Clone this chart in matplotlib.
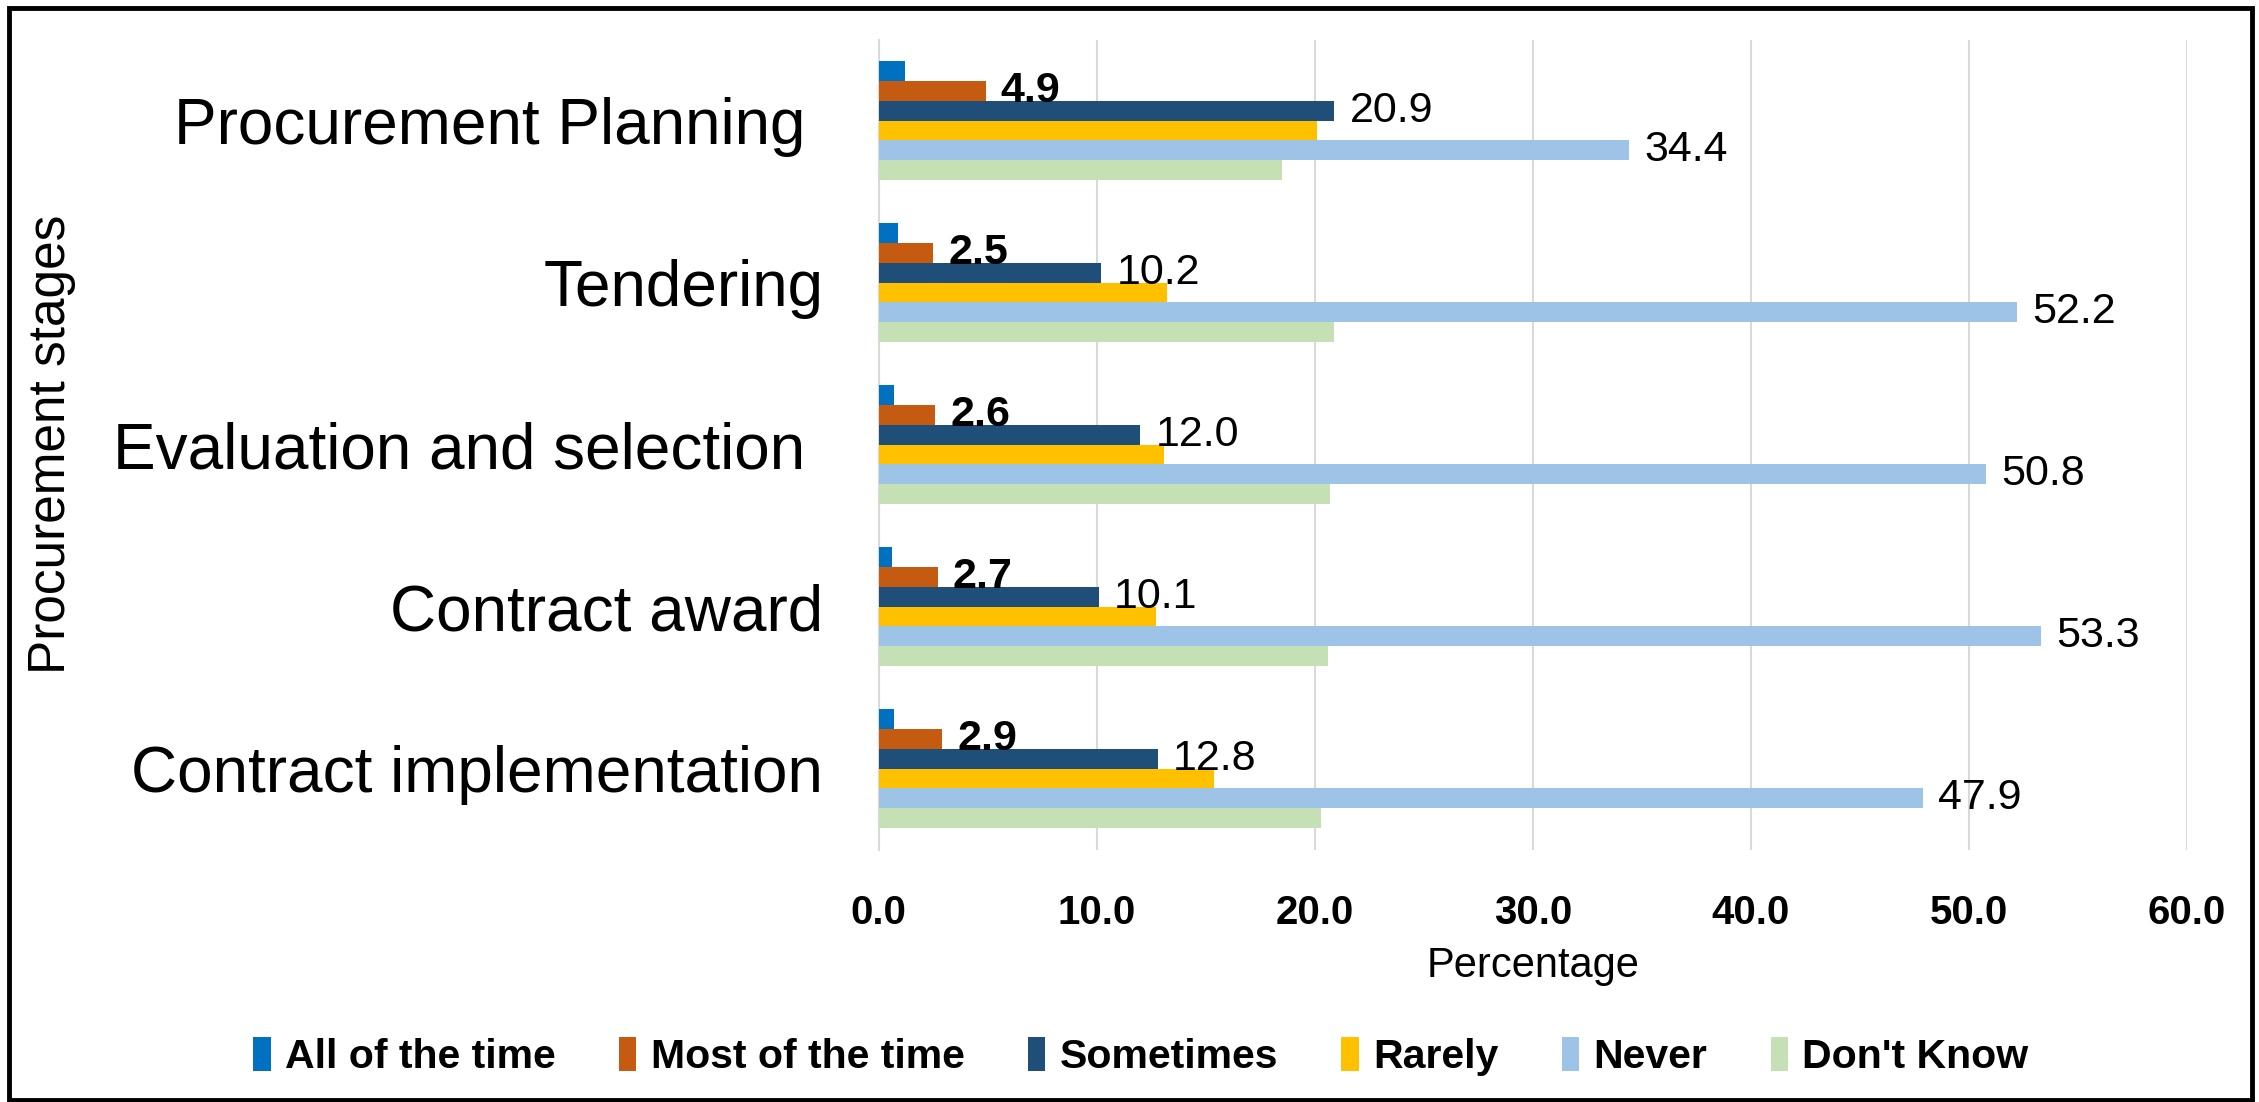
import matplotlib
matplotlib.use("Agg")
import matplotlib.pyplot as plt
import numpy as np
from matplotlib.patches import Rectangle
from matplotlib.ticker import FormatStrFormatter

# ---- data (percentages) ---------------------------------------------------
stages = ["Procurement Planning ", "Tendering", "Evaluation and selection ",
          "Contract award", "Contract implementation"]
series = ["All of the time", "Most of the time", "Sometimes", "Rarely",
          "Never", "Don't Know"]
all_time = [1.2, 0.9, 0.7, 0.6, 0.7]
most_time = [4.9, 2.5, 2.6, 2.7, 2.9]
sometimes = [20.9, 10.2, 12.0, 10.1, 12.8]
rarely = [20.1, 13.2, 13.1, 12.7, 15.4]
never = [34.4, 52.2, 50.8, 53.3, 47.9]
dont_know = [18.5, 20.9, 20.7, 20.6, 20.3]

colors = ["#0070C0", "#C55A11", "#1F4E79", "#FFC000", "#9DC3E6", "#C5E0B4"]
# which series carry value labels, and whether bold
labelled = {1: True, 2: False, 4: False}

plt.rcParams["font.family"] = ["Liberation Sans", "DejaVu Sans"]

fig = plt.figure(figsize=(22.59, 11.02), dpi=100)
ax = fig.add_axes([0.389, 0.229, 0.579, 0.735])

values = [all_time, most_time, sometimes, rarely, never, dont_know]
y = np.arange(len(stages))
h = 0.122
for i, (name, vals, c) in enumerate(zip(series, values, colors)):
    pos = y + (i - 2.5) * h
    bars = ax.barh(pos, vals, height=h, color=c, label=name, zorder=3)
    if i in labelled:
        for b, v in zip(bars, vals):
            ax.annotate(f"{v:.1f}", (b.get_width(), b.get_y() + h / 2),
                        xytext=(11, 0), textcoords="offset points",
                        ha="left", va="center", fontsize=31,
                        fontweight="bold" if labelled[i] else "normal",
                        color="black", zorder=5)

ax.set_xlim(0, 60)
ax.set_ylim(len(stages) - 0.5, -0.5)
ax.set_xticks(np.arange(0, 61, 10))
ax.xaxis.set_major_formatter(FormatStrFormatter("%.1f"))
ax.set_yticks(y)
ax.set_yticklabels(stages, fontsize=46)
for t in ax.get_xticklabels():
    t.set_fontweight("bold")
    t.set_fontsize(29)
ax.tick_params(axis="both", length=0)
ax.tick_params(axis="y", pad=40)
ax.tick_params(axis="x", pad=32)
ax.grid(axis="x", color="#D9D9D9", linewidth=1.5, zorder=0)
for s in ("top", "right", "bottom"):
    ax.spines[s].set_visible(False)
ax.spines["left"].set_color("#D9D9D9")
ax.spines["left"].set_linewidth(1.5)

ax.set_xlabel("Percentage", fontsize=30, labelpad=10)
fig.text(0.023, 0.597, "Procurement stages", rotation=90, ha="center",
         va="center", fontsize=37)

leg = fig.legend(loc="center", bbox_to_anchor=(0.505, 0.041), ncol=6,
                 frameon=False, handlelength=0.42, handleheight=0.9,
                 handletextpad=0.35, columnspacing=1.55,
                 prop={"size": 29.5, "weight": "bold"})

# outer chart border
fig.patches.append(Rectangle((0.004, 0.002), 0.993, 0.991, transform=fig.transFigure,
                             fill=False, edgecolor="black", linewidth=3.5))

fig.savefig("out.png", dpi=100, facecolor="white")
